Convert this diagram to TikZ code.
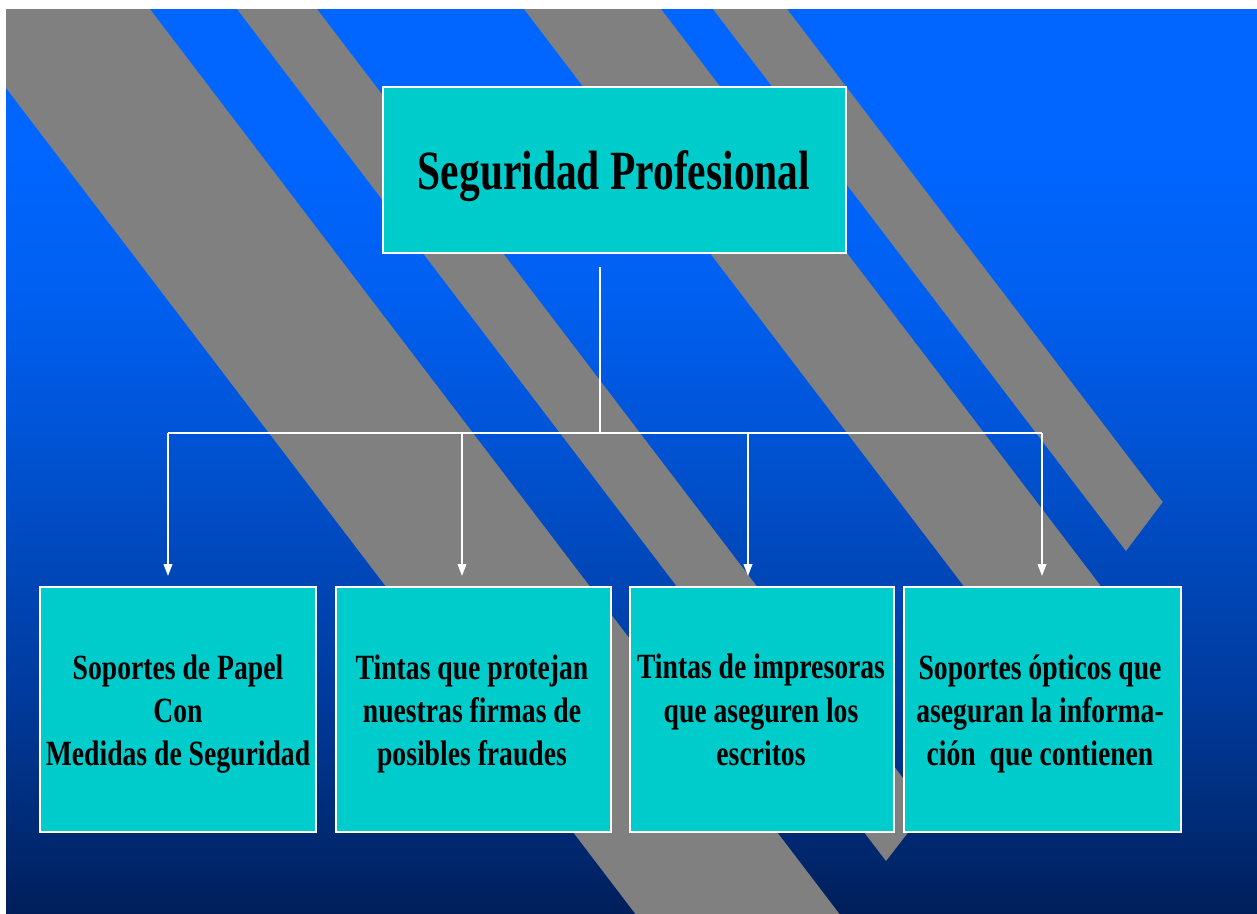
\documentclass[tikz,border=0pt]{standalone}
\usepackage{fontspec}
\usetikzlibrary{arrows.meta}
\newfontfamily\boxfont[FakeStretch=0.78]{Liberation Serif Bold}
\newfontfamily\topfont[FakeStretch=0.75]{Liberation Serif Bold}
\definecolor{boxcyan}{RGB}{0,204,204}
\definecolor{stripegray}{RGB}{128,128,128}
\pgfdeclareverticalshading{slidebg}{100bp}{
 rgb(0bp)=(0,0.118,0.353);
 rgb(25bp)=(0,0.118,0.353);
 rgb(31.3bp)=(0,0.180,0.490);
 rgb(36.8bp)=(0,0.227,0.608);
 rgb(42.3bp)=(0,0.267,0.698);
 rgb(50.6bp)=(0,0.322,0.824);
 rgb(58.9bp)=(0,0.373,0.941);
 rgb(67.2bp)=(0,0.4,1);
 rgb(75bp)=(0,0.4,1);
 rgb(100bp)=(0,0.4,1)}
\tikzset{
  stripe/.style={fill=stripegray},
  boxstyle/.style={draw=white, line width=1.5pt, fill=boxcyan, inner sep=0pt},
  toptext/.style={inner sep=0pt, align=center, text=black,
    font=\topfont\fontsize{41.5}{50}\selectfont},
  leaftext/.style={inner sep=0pt, align=center, text=black,
    font=\boxfont\fontsize{26.6}{32.5}\selectfont},
  link/.style={draw=white, line width=1.3pt},
  arrowlink/.style={link, -{Triangle[length=9pt,width=6.5pt]}}
}
\begin{document}
\begin{tikzpicture}[x=0.75pt,y=-0.75pt]
\useasboundingbox (0,0) rectangle (1257,914);
\fill[white] (0,0) rectangle (1257,914);
\shade[shading=slidebg] (6,9) rectangle (1257,914);
\begin{scope}
  \clip (6,9) rectangle (1257,914);
  \fill[stripe] (-61,0) -- (143,0) -- (905,1000) -- (701,1000) -- cycle;
  \fill[stripe] (230.1,0) -- (310.1,0) -- (926.4,808.8) -- (886,861) -- cycle;
  \fill[stripe] (517.1,0) -- (654.1,0) -- (1100,585) -- (1030.9,674.2) -- cycle;
  \fill[stripe] (706.1,0) -- (780.1,0) -- (1162.7,502) -- (1126,551) -- cycle;
\end{scope}

\node[boxstyle, minimum width=347.25pt, minimum height=124.5pt] (top) at (614.5,170) {};
\node[toptext] (toplabel) at (614,176) {Seguridad Profesional};

\node[boxstyle, minimum width=207pt, minimum height=183.75pt] (b1) at (178,709.5) {};
\node[boxstyle, minimum width=206.25pt, minimum height=183.75pt] (b2) at (473.5,709.5) {};
\node[boxstyle, minimum width=198pt, minimum height=183.75pt] (b3) at (762,709.5) {};
\node[boxstyle, minimum width=207.75pt, minimum height=183.75pt] (b4) at (1042.5,709.5) {};

\node[leaftext] (t1) at (178,714) {Soportes de Papel\\Con\\Medidas de Seguridad};
\node[leaftext] (t2) at (472,714) {Tintas que protejan\\nuestras firmas de\\posibles fraudes};
\node[leaftext] (t3) at (761,710) {Tintas de impresoras\\que aseguren los\\escritos};
\node[leaftext] (t4) at (1040,714) {Soportes ópticos que\\aseguran la informa-\\ción \ que contienen};

\coordinate (stem) at (600,267);
\coordinate (hub) at (600,433);
\coordinate (j1) at (168,433);
\coordinate (j2) at (462,433);
\coordinate (j3) at (748,433);
\coordinate (j4) at (1042,433);
\coordinate (e1) at (168,576);
\coordinate (e2) at (462,576);
\coordinate (e3) at (748,576);
\coordinate (e4) at (1042,576);

\draw[link] (stem) -- (hub);
\draw[link] (j1) -- (j4);
\draw[arrowlink] (j1) -- (e1);
\draw[arrowlink] (j2) -- (e2);
\draw[arrowlink] (j3) -- (e3);
\draw[arrowlink] (j4) -- (e4);
\end{tikzpicture}
\end{document}
